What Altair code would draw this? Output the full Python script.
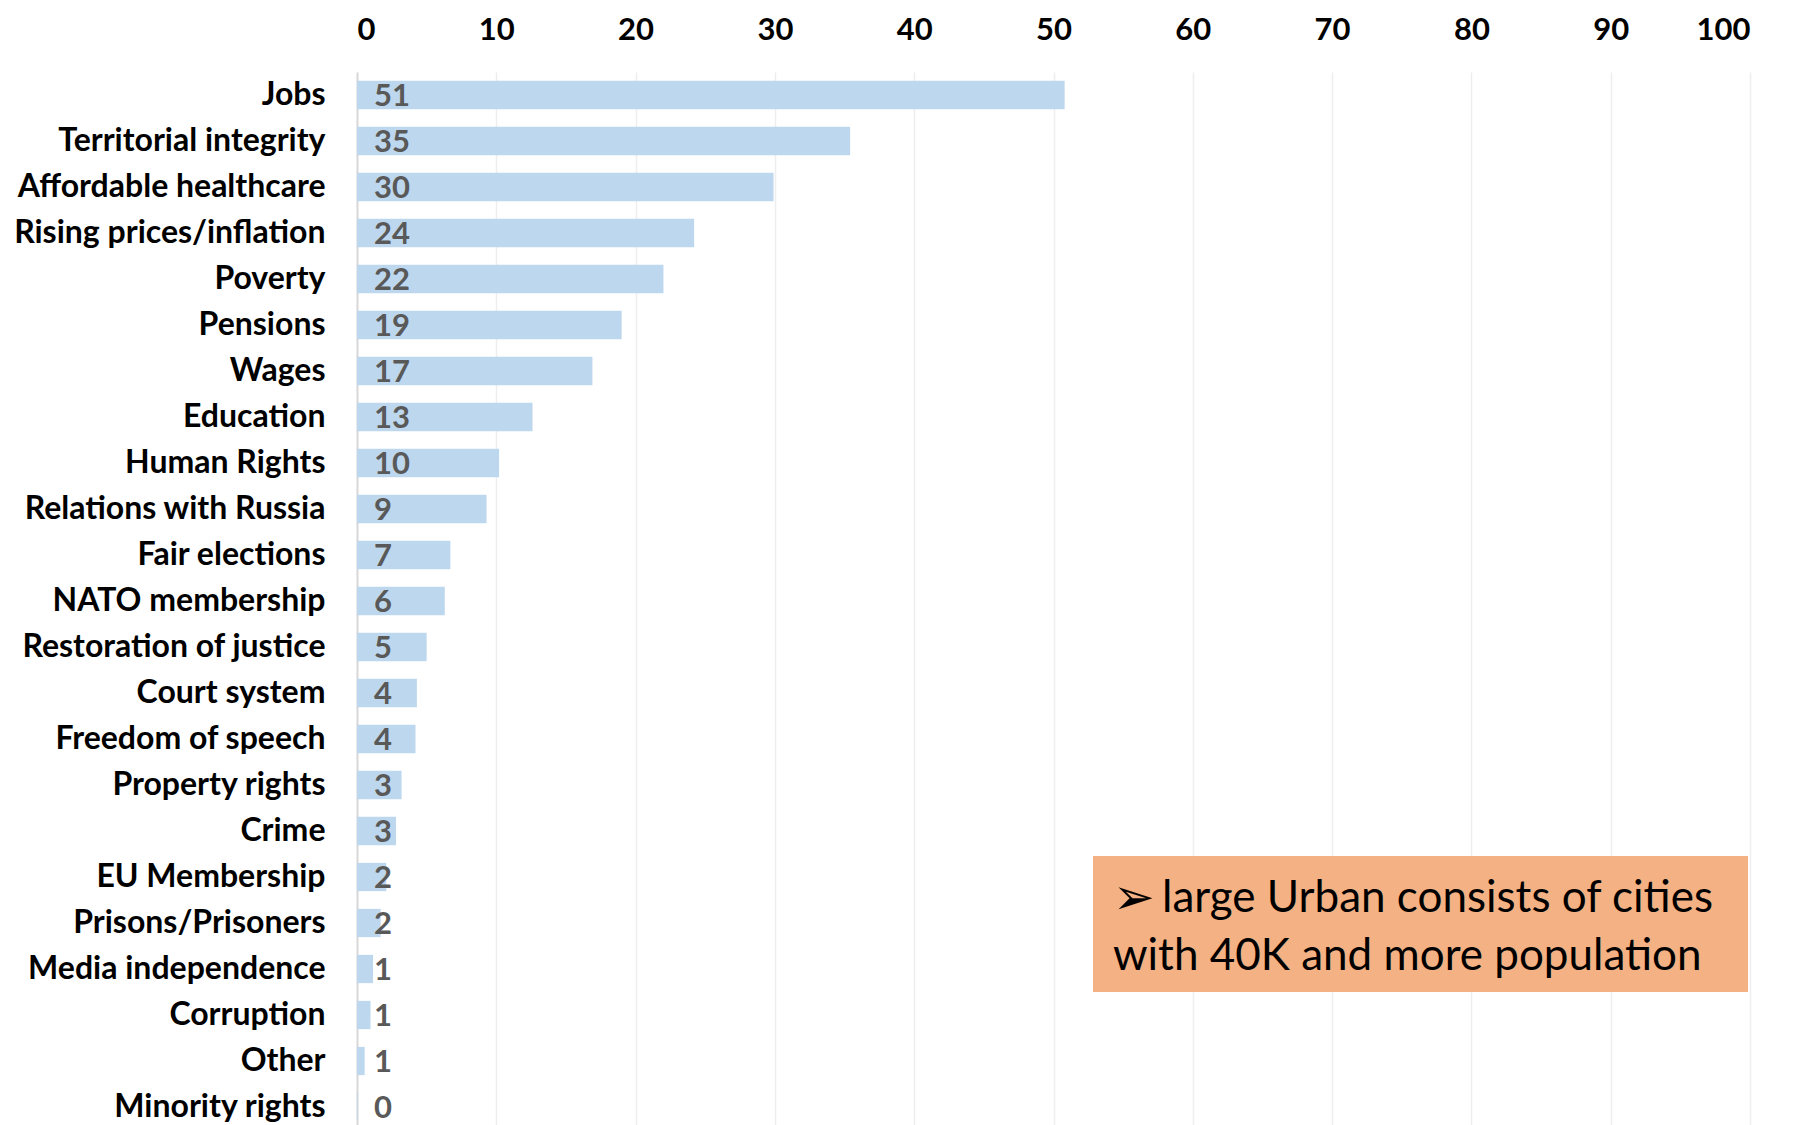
import altair as alt
import pandas as pd

categories = [
    "Jobs", "Territorial integrity", "Affordable healthcare", "Rising prices/inflation",
    "Poverty", "Pensions", "Wages", "Education", "Human Rights", "Relations with Russia",
    "Fair elections", "NATO membership", "Restoration of justice", "Court system",
    "Freedom of speech", "Property rights", "Crime", "EU Membership", "Prisons/Prisoners",
    "Media independence", "Corruption", "Other", "Minority rights",
]
values = [50.8, 35.4, 29.9, 24.2, 22.0, 19.0, 16.9, 12.6, 10.2, 9.3,
          6.7, 6.3, 5.0, 4.3, 4.2, 3.2, 2.8, 2.1, 1.7, 1.15, 0.97, 0.55, 0.05]
labels = ["51", "35", "30", "24", "22", "19", "17", "13", "10", "9",
          "7", "6", "5", "4", "4", "3", "3", "2", "2", "1", "1", "1", "0"]
x_ticks = [0, 10, 20, 30, 40, 50, 60, 70, 80, 90, 100]
note_arrow = "\u27a2"
note_line1 = "large Urban consists of cities"
note_line2 = "with 40K and more population"

df = pd.DataFrame({"issue": categories, "value": values, "label": labels})

x_scale = alt.Scale(domain=[0, 100], nice=False, zero=True)
y_scale = alt.Scale(domain=categories, range=[0, 1058], paddingInner=0.385, paddingOuter=0.1925)

base = alt.Chart(df)

bars = base.mark_bar(color="#BDD7EE").encode(
    x=alt.X("value:Q", scale=x_scale,
            axis=alt.Axis(orient="top", values=x_ticks, title=None, grid=True,
                          gridColor="#EEEEEE", gridWidth=1.5, domain=False, ticks=False,
                          labelFont="Lato", labelFontWeight="bold", labelFontSize=31,
                          labelColor="#000000", labelPadding=26)),
    y=alt.Y("issue:N", sort=categories, scale=y_scale,
            axis=alt.Axis(title=None, ticks=False, domain=True, domainColor="#D9D9D9",
                          domainWidth=2, grid=False, labelFont="Lato", labelFontWeight="bold",
                          labelFontSize=32, labelColor="#000000", labelPadding=32,
                          labelLimit=400)),
)

texts = base.mark_text(align="left", baseline="middle", dx=17, dy=2, font="Lato",
                       fontWeight="bold", fontSize=31, color="#595959").encode(
    x=alt.datum(0),
    y=alt.Y("issue:N", sort=categories, scale=y_scale),
    text="label:N",
)

one = alt.Chart(pd.DataFrame({"a": [0]}))
box = one.mark_rect(color="#F4B183").encode(
    x=alt.value(736), x2=alt.value(1391), y=alt.value(784), y2=alt.value(920)
)
arrow = one.mark_text(align="left", baseline="alphabetic", font="DejaVu Sans", fontSize=50,
                      color="#000000").encode(
    x=alt.value(756), y=alt.value(842), text=alt.value(note_arrow)
)
line1 = one.mark_text(align="left", baseline="alphabetic", font="Lato", fontSize=44,
                      color="#000000").encode(
    x=alt.value(805), y=alt.value(840), text=alt.value(note_line1)
)
line2 = one.mark_text(align="left", baseline="alphabetic", font="Lato", fontSize=44,
                      color="#000000").encode(
    x=alt.value(756), y=alt.value(898), text=alt.value(note_line2)
)

chart = alt.layer(bars, texts, box, arrow, line1, line2).properties(
    width=1393,
    height=1053,
    background="white",
    autosize=alt.AutoSizeParams(type="none"),
    padding={"left": 349, "top": 64, "right": 42, "bottom": 0},
).configure_view(stroke="transparent", strokeWidth=0
).configure_axisX(domain=False, ticks=False)

chart.save("out.html", embed_options={"renderer": "svg", "actions": False})
